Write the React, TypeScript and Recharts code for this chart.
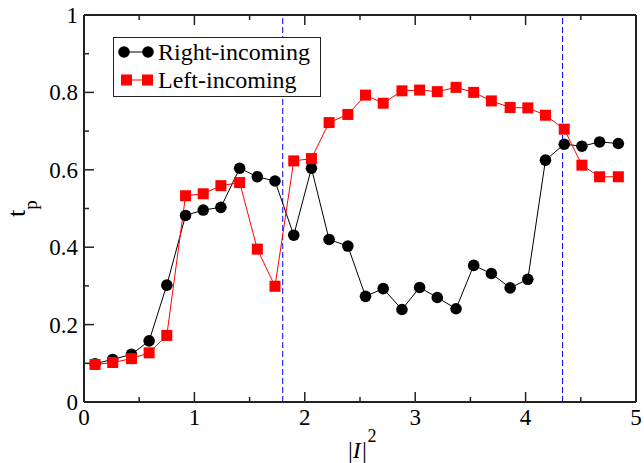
import { LineChart, Line, XAxis, YAxis, ReferenceLine } from "recharts"

const xs = [
  0.1, 0.26, 0.43, 0.59, 0.75, 0.92, 1.08, 1.24, 1.41, 1.57,
  1.73, 1.9, 2.06, 2.22, 2.39, 2.55, 2.71, 2.88, 3.04, 3.2,
  3.37, 3.53, 3.69, 3.86, 4.02, 4.18, 4.35, 4.51, 4.67, 4.84,
]
const rightIncoming = [
  0.099, 0.11, 0.123, 0.158, 0.302, 0.482, 0.496, 0.503, 0.604, 0.582,
  0.571, 0.431, 0.604, 0.42, 0.403, 0.273, 0.293, 0.239, 0.296, 0.27,
  0.241, 0.353, 0.332, 0.295, 0.317, 0.625, 0.666, 0.661, 0.672, 0.668,
]
const leftIncoming = [
  0.097, 0.102, 0.112, 0.127, 0.172, 0.533, 0.538, 0.559, 0.567, 0.395,
  0.299, 0.623, 0.629, 0.722, 0.743, 0.793, 0.772, 0.804, 0.806, 0.802,
  0.813, 0.8, 0.778, 0.761, 0.76, 0.741, 0.705, 0.612, 0.582, 0.582,
]
const xTicks = [0, 0.5, 1, 1.5, 2, 2.5, 3, 3.5, 4, 4.5, 5]
const yTicks = [0, 0.1, 0.2, 0.3, 0.4, 0.5, 0.6, 0.7, 0.8, 0.9, 1]
const thresholds = [1.8, 4.335]

const data = xs.map((x, i) => ({ x, right: rightIncoming[i], left: leftIncoming[i] }))

const font = "Liberation Serif"
const isMajorX = (v: number) => Number.isInteger(v)
const isMajorY = (v: number) => Math.round(v * 10) % 2 === 0

const BottomTick = ({ x, y, payload }: any) => {
  const v = payload.value
  const major = isMajorX(v)
  return (
    <g>
      <line x1={x} x2={x} y1={y} y2={y - (major ? 10 : 5)} stroke="#222" strokeWidth={1.5} />
      {major && (
        <text x={x} y={y + 23} textAnchor="middle" fontSize={23} style={{ fontFamily: font }} fill="#000">
          {v}
        </text>
      )}
    </g>
  )
}

const TopTick = ({ x, y, payload }: any) => (
  <line x1={x} x2={x} y1={y} y2={y + (isMajorX(payload.value) ? 10 : 5)} stroke="#222" strokeWidth={1.5} />
)

const LeftTick = ({ x, y, payload }: any) => {
  const v = payload.value
  const major = isMajorY(v)
  return (
    <g>
      <line x1={x} x2={x + (major ? 10 : 5)} y1={y} y2={y} stroke="#222" strokeWidth={1.5} />
      {major && (
        <text x={x - 6} y={y + 8} textAnchor="end" fontSize={23} style={{ fontFamily: font }} fill="#000">
          {Number(v.toFixed(1))}
        </text>
      )}
    </g>
  )
}

const RightTick = ({ x, y, payload }: any) => (
  <line x1={x} x2={x - (isMajorY(payload.value) ? 10 : 5)} y1={y} y2={y} stroke="#222" strokeWidth={1.5} />
)

const Circle = (p: any) => <circle key={p.index} cx={p.cx} cy={p.cy} r={5.8} fill="#000" />
const Square = (p: any) => (
  <rect key={p.index} x={p.cx - 5.5} y={p.cy - 5.5} width={11} height={11} fill="#ff0000" />
)

export default function App() {
  return (
    <div style={{ position: "absolute", left: 0, top: 0, width: 644, height: 463, background: "#fff" }}>
      <LineChart width={644} height={463} data={data} margin={{ top: 14, right: 7, bottom: 0, left: 0 }}>
        <XAxis
          xAxisId="b"
          dataKey="x"
          type="number"
          domain={[0, 5]}
          ticks={xTicks}
          interval={0}
          tickSize={0}
          tickMargin={0}
          tick={<BottomTick />}
          tickLine={false}
          height={61}
          axisLine={{ stroke: "#222", strokeWidth: 2 }}
          label={{
            content: ({ viewBox }: any) => (
              <text
                x={viewBox.x + viewBox.width / 2 - 12}
                y={viewBox.y + 56}
                fontSize={24}
                style={{ fontFamily: font }}
                fill="#000"
              >
                |<tspan fontStyle="italic">I|</tspan>
                <tspan dy={-16} fontSize={18}>2</tspan>
              </text>
            ),
          }}
        />
        <XAxis
          xAxisId="t"
          orientation="top"
          type="number"
          dataKey="x"
          domain={[0, 5]}
          ticks={xTicks}
          interval={0}
          tickSize={0}
          tickMargin={0}
          tick={<TopTick />}
          tickLine={false}
          height={1}
          axisLine={{ stroke: "#222", strokeWidth: 2 }}
        />
        <YAxis
          yAxisId="l"
          type="number"
          domain={[0, 1]}
          ticks={yTicks}
          interval={0}
          tickSize={0}
          tickMargin={0}
          tick={<LeftTick />}
          tickLine={false}
          width={84}
          axisLine={{ stroke: "#222", strokeWidth: 2 }}
          label={{
            content: ({ viewBox }: any) => {
              const cx = viewBox.x + 25
              const cy = viewBox.y + viewBox.height / 2
              return (
                <text
                  x={cx}
                  y={cy}
                  transform={`rotate(-90 ${cx} ${cy})`}
                  textAnchor="middle"
                  fontSize={26}
                  style={{ fontFamily: font }}
                  fill="#000"
                >
                  t<tspan dy={12} fontSize={19}>p</tspan>
                </text>
              )
            },
          }}
        />
        <YAxis
          yAxisId="r"
          orientation="right"
          type="number"
          domain={[0, 1]}
          ticks={yTicks}
          interval={0}
          tickSize={0}
          tickMargin={0}
          tick={<RightTick />}
          tickLine={false}
          width={1}
          axisLine={{ stroke: "#222", strokeWidth: 2 }}
        />
        {thresholds.map((t) => (
          <ReferenceLine
            key={t}
            x={t}
            xAxisId="b"
            yAxisId="l"
            stroke="#0000ff"
            strokeWidth={1}
            strokeDasharray="6 3"
          />
        ))}
        <Line
          xAxisId="b"
          yAxisId="l"
          dataKey="right"
          type="linear"
          stroke="#000"
          strokeWidth={1}
          dot={Circle}
          isAnimationActive={false}
        />
        <Line
          xAxisId="b"
          yAxisId="l"
          dataKey="left"
          type="linear"
          stroke="#ff0000"
          strokeWidth={1}
          dot={Square}
          isAnimationActive={false}
        />
      </LineChart>
      <div
        style={{
          position: "absolute",
          left: 113,
          top: 37,
          width: 206,
          height: 58,
          border: "1.5px solid #222",
          background: "#fff",
          fontFamily: font,
          fontSize: 24,
          color: "#000",
        }}
      >
        {[
          { name: "Right-incoming", color: "#000", shape: "circle" },
          { name: "Left-incoming", color: "#ff0000", shape: "square" },
        ].map((s, i) => (
          <div key={s.name} style={{ position: "absolute", left: 0, top: 0 + i * 28, height: 28, display: "flex", alignItems: "center" }}>
            <svg width={44} height={28} style={{ display: "block" }}>
              <line x1={11} x2={34} y1={14} y2={14} stroke={s.color} strokeWidth={1} />
              {s.shape === "circle" ? (
                <>
                  <circle cx={10} cy={14} r={5.8} fill={s.color} />
                  <circle cx={34} cy={14} r={5.8} fill={s.color} />
                </>
              ) : (
                <>
                  <rect x={7} y={8.5} width={11} height={11} fill={s.color} />
                  <rect x={28} y={8.5} width={11} height={11} fill={s.color} />
                </>
              )}
            </svg>
            <span style={{ lineHeight: "28px", whiteSpace: "nowrap" }}>{s.name}</span>
          </div>
        ))}
      </div>
    </div>
  )
}
